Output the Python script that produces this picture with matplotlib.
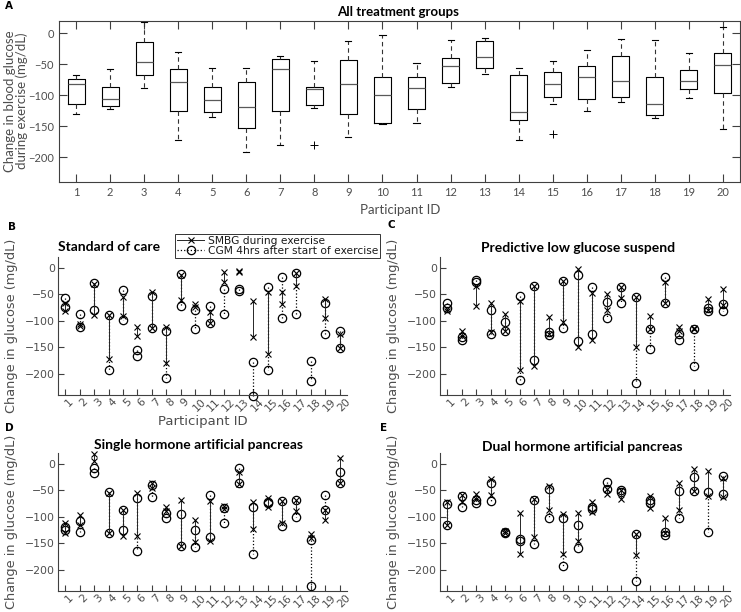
import numpy as np
import matplotlib
matplotlib.use('Agg')
import matplotlib.pyplot as plt
import matplotlib.transforms as mtransforms
from matplotlib.lines import Line2D

nan = np.nan
participants = list(range(1, 21))

# ---- Panel A: box plot statistics (all treatment groups) ----
a_whislo = [-130, -122, -89, -172, -135, -191, -181, -121, -168, -146,
            -145, -87, -66, -172, -114, -125, -111, -137, -105, -154]
a_q1 = [-114, -117, -68, -126, -127, -152, -125, -116, -130, -145,
        -122, -80, -56, -140, -102, -106, -102, -132, -90, -97]
a_med = [-81, -106, -47, -79, -107, -119, -58, -90, -81, -99,
         -89, -53, -38, -127, -82, -71, -77, -114, -77, -51]
a_q3 = [-74, -86, -14, -57, -86, -78, -42, -86, -43, -71,
        -70, -39, -12, -68, -63, -53, -37, -71, -59, -31]
a_whishi = [-67, -57, 19, -30, -56, -56, -36, -44, -13, -2,
            -48, -10, -7, -56, -45, -27, -9, -10, -31, 11]
a_fliers = [[], [], [], [], [], [], [], [-180], [], [],
            [], [], [], [], [-162], [], [], [], [], []]

# ---- Panel B: Standard of care ----
b_smbg_1 = [-66, -107, -31, -89, -56, -111, -46, -111, -13, -68, -84, -9, -7, -63, -46, -45, -10, nan, -59, -125]
b_smbg_2 = [-82, -110, -89, -173, -91, -129, -113, -180, -61, -74, -104, -28, -9, -131, -162, -69, -35, nan, -94, -151]
b_cgm_1 = [-57, -87, -29, -89, -42, -155, -54, -120, -12, -80, -73, -41, -41, -177, -36, -18, -10, -176, -67, -119]
b_cgm_2 = [-74, -111, -79, -192, -99, -166, -114, -208, -72, -115, -104, -87, -44, -242, -192, -94, -88, -214, -126, -151]

# ---- Panel C: Predictive low glucose suspend ----
c_smbg_1 = [-78, -120, -35, -67, -88, -63, -35, -93, -26, -3, -48, -50, -37, -56, -91, -27, -111, -113, -59, -40]
c_smbg_2 = [-82, -128, -72, -121, -119, -193, -185, -125, -102, -149, -137, -80, -57, -149, -115, -66, -120, -116, -79, -70]
c_cgm_1 = [-67, -130, -23, -80, -103, -54, -35, -122, -26, -14, -37, -65, -37, -56, -115, -17, -125, -115, -77, -69]
c_cgm_2 = [-77, -137, -27, -126, -120, -211, -174, -127, -114, -139, -126, -95, -67, -218, -153, -66, -137, -185, -81, -82]

# ---- Panel D: Single hormone artificial pancreas ----
d_smbg_1 = [-112, -96, 18, -55, -87, -55, -37, -82, -68, -107, -70, -80, -15, -72, -65, -71, -69, -133, -87, 10]
d_smbg_2 = [-131, -115, 5, -131, -137, -137, -45, -90, -156, -148, -145, -86, -38, -123, -82, -112, -90, -141, -106, -37]
d_cgm_1 = [-119, -108, -8, -53, -87, -65, -40, -93, -95, -126, -59, -84, -8, -82, -72, -71, -69, -143, -59, -15]
d_cgm_2 = [-125, -129, -18, -130, -125, -165, -63, -102, -156, -158, -139, -112, -37, -170, -74, -117, -101, -230, -87, -37]

# ---- Panel E: Dual hormone artificial pancreas ----
e_smbg_1 = [-72, -59, -58, -29, -127, -93, -66, -43, -94, -93, -72, -48, -50, -132, -61, -103, -37, -10, -13, -27]
e_smbg_2 = [-116, -72, -66, -60, -131, -170, -138, -88, -170, -145, -92, -58, -67, -173, -84, -131, -88, -51, -61, -62]
e_cgm_1 = [-77, -61, -68, -36, -128, -142, -69, -48, -103, -115, -82, -35, -50, -132, -68, -128, -51, -25, -53, -23]
e_cgm_2 = [-116, -82, -74, -70, -131, -146, -151, -102, -192, -159, -85, -48, -54, -221, -75, -134, -103, -51, -128, -58]

yticks = [-200, -150, -100, -50, 0]

W, H = 741, 612
fig = plt.figure(figsize=(W / 100, H / 100), dpi=100)

def rect(l, t, r, b):
    return [l / W, 1 - b / H, (r - l) / W, (b - t) / H]

TXT = '0.3'
SP = '0.25'
FONT = 'DejaVu Sans'
TFONT = 'Lato'

# ---------------- Panel A ----------------
axA = fig.add_axes(rect(59, 21, 740, 182))
stats = []
for i in range(20):
    stats.append(dict(med=a_med[i], q1=a_q1[i], q3=a_q3[i],
                      whislo=a_whislo[i], whishi=a_whishi[i],
                      fliers=a_fliers[i]))
axA.bxp(stats, positions=participants, widths=0.5, capwidths=0.18,
        showfliers=True, manage_ticks=False,
        boxprops=dict(color='black', lw=0.8),
        medianprops=dict(color='0.35', lw=0.9),
        whiskerprops=dict(color='0.2', lw=0.8, linestyle=(0, (4, 3))),
        capprops=dict(color='black', lw=0.8),
        flierprops=dict(marker='+', markeredgecolor='black', markersize=6, mew=0.7))
axA.set_xlim(0.5, 20.5)
axA.set_ylim(-240, 20)
axA.set_xticks(participants)
axA.set_xticklabels([str(p) for p in participants])
axA.set_yticks(yticks)
axA.tick_params(direction='in', top=True, right=True, length=6, width=0.8,
                color=SP, labelcolor=TXT, labelsize=8)
for s in axA.spines.values():
    s.set_color(SP)
    s.set_linewidth(0.8)
for lab in axA.get_xticklabels() + axA.get_yticklabels():
    lab.set_fontfamily(TFONT)
fig.text(398 / W, 1 - 12 / H, 'All treatment groups', ha='center', va='center',
         fontsize=9.5, fontweight='bold', family=TFONT)
fig.text(400 / W, 1 - 210 / H, 'Participant ID', ha='center', va='center',
         fontsize=9.5, color=TXT, family=TFONT)
fig.text(16 / W, 1 - 101 / H, 'Change in blood glucose\nduring exercise (mg/dL)',
         ha='center', va='center', rotation=90, fontsize=9.5, color=TXT,
         family=TFONT, linespacing=1.0)

# ---------------- Panels B-E ----------------
shift = mtransforms.ScaledTranslation(4 / 100, 0, fig.dpi_scale_trans)

def panel(box, smbg1, smbg2, cgm1, cgm2):
    ax = fig.add_axes(rect(*box))
    for i, p in enumerate(participants):
        ax.plot([p, p], [cgm1[i], cgm2[i]], linestyle=':', color='black', lw=0.9,
                marker='o', mfc='none', mec='black', ms=6, mew=0.9, clip_on=False)
        ax.plot([p, p], [smbg1[i], smbg2[i]], linestyle='-', color='0.15', lw=0.7,
                marker='x', mec='black', ms=4, mew=0.8, clip_on=False)
    ax.set_xlim(0.5, 20.5)
    ax.set_ylim(-240, 20)
    ax.set_xticks(participants)
    ax.set_xticklabels([str(p) for p in participants], rotation=45,
                       ha='center', va='top')
    ax.set_yticks(yticks)
    ax.tick_params(direction='in', length=4, width=0.8, color=SP,
                   labelcolor=TXT, labelsize=7.8)
    ax.tick_params(axis='x', pad=1)
    ax.tick_params(axis='y', pad=2)
    for lab in ax.get_xticklabels():
        lab.set_transform(lab.get_transform() + shift)
    for s in ['top', 'right']:
        ax.spines[s].set_visible(False)
    for s in ['left', 'bottom']:
        ax.spines[s].set_color(SP)
        ax.spines[s].set_linewidth(0.8)
    return ax

axB = panel((58, 257, 347, 395), b_smbg_1, b_smbg_2, b_cgm_1, b_cgm_2)
axC = panel((440, 257, 730, 395), c_smbg_1, c_smbg_2, c_cgm_1, c_cgm_2)
axD = panel((58, 453, 347, 591), d_smbg_1, d_smbg_2, d_cgm_1, d_cgm_2)
axE = panel((440, 453, 730, 591), e_smbg_1, e_smbg_2, e_cgm_1, e_cgm_2)

titles = [('Standard of care', 109, 247), ('Predictive low glucose suspend', 578, 248),
          ('Single hormone artificial pancreas', 199, 445), ('Dual hormone artificial pancreas', 582, 447)]
for t, x, y in titles:
    fig.text(x / W, 1 - y / H, t, ha='center', va='center', fontsize=10,
             fontweight='bold', family=TFONT)

for x, y in [(12, 326), (394, 326), (12, 522), (394, 522)]:
    fig.text(x / W, 1 - y / H, 'Change in glucose (mg/dL)', ha='center', va='center',
             rotation=90, fontsize=9.3, color=TXT, family=FONT)
fig.text(203 / W, 1 - 422 / H, 'Participant ID', ha='center', va='center',
         fontsize=9.5, color=TXT, family=FONT)

for t, x, y in [('A', 5, 6), ('B', 8, 227), ('C', 388, 225), ('D', 5, 428), ('E', 380, 428)]:
    fig.text(x / W, 1 - y / H, t, ha='left', va='center', fontsize=7.5,
             fontweight='bold', family=FONT)

handles = [Line2D([], [], linestyle='-', color='0.15', lw=0.7, marker='x', mec='black', ms=4, mew=0.8),
           Line2D([], [], linestyle=':', color='black', lw=0.9, marker='o', mfc='none', mec='black', ms=6, mew=0.9)]
leg = fig.legend(handles, ['SMBG during exercise', 'CGM 4hrs after start of exercise'],
                 loc='upper left', bbox_to_anchor=(175 / W, 1 - 234 / H), fontsize=7.7,
                 handlelength=2.6, borderpad=0.15, labelspacing=0.05, handletextpad=0.3,
                 fancybox=False, edgecolor='0.2', framealpha=1, borderaxespad=0, numpoints=1)
leg.get_frame().set_linewidth(0.7)
for t in leg.get_texts():
    t.set_color('0.1')

fig.savefig('out.png', dpi=100)
